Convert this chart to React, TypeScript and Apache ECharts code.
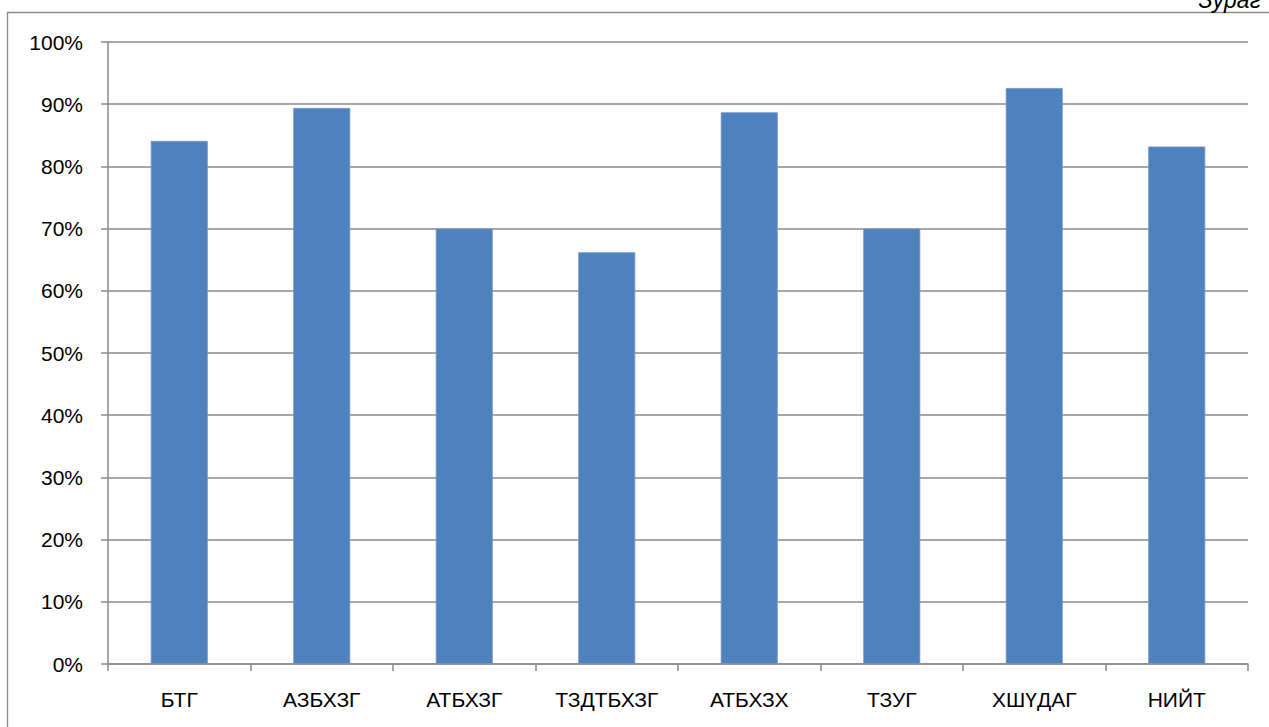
import React, { useEffect, useRef } from "react";
import * as echarts from "echarts";

const categories = ["БТГ", "АЗБХЗГ", "АТБХЗГ", "ТЗДТБХЗГ", "АТБХЗХ", "ТЗУГ", "ХШҮДАГ", "НИЙТ"];
const values = [0.841, 0.894, 0.70, 0.662, 0.887, 0.70, 0.926, 0.832];
const yTicks = { min: 0, max: 1, interval: 0.1 };
const cornerTitle = "Зураг";

export default function App() {
  const ref = useRef<HTMLDivElement>(null);
  useEffect(() => {
    if (!ref.current) return;
    const chart = echarts.init(ref.current, undefined, { renderer: "svg" });
    const font = "'Liberation Sans', Arial, sans-serif";
    const gray = "#8a8a8a";
    chart.setOption({
      animation: false,
      backgroundColor: "#ffffff",
      textStyle: { fontFamily: font },
      graphic: [
        {
          type: "rect",
          shape: { x: 7.5, y: 12.5, width: 1400, height: 900 },
          style: { fill: "none", stroke: gray, lineWidth: 1.3 },
          silent: true,
        },
        {
          type: "text",
          x: 1261,
          y: 11,
          style: {
            text: cornerTitle,
            fontSize: 23,
            fontStyle: "italic",
            fontFamily: font,
            fill: "#000",
            textAlign: "right",
            textVerticalAlign: "bottom",
          },
        },
      ],
      grid: { left: 108, right: 21, top: 42, bottom: 63 },
      xAxis: {
        type: "category",
        data: categories,
        boundaryGap: true,
        axisLine: { lineStyle: { color: gray, width: 1.5 } },
        axisTick: { show: true, length: 7, interval: 0, lineStyle: { color: gray, width: 1.5 } },
        axisLabel: { color: "#000", fontSize: 21, margin: 25, fontFamily: font, interval: 0 },
      },
      yAxis: {
        type: "value",
        min: yTicks.min,
        max: yTicks.max,
        interval: yTicks.interval,
        axisLine: { show: true, lineStyle: { color: gray, width: 1.5 } },
        axisTick: { show: true, length: 7, lineStyle: { color: gray, width: 1.5 } },
        splitLine: { show: true, lineStyle: { color: gray, width: 1.5 } },
        axisLabel: {
          color: "#000",
          fontSize: 21,
          margin: 25,
          fontFamily: font,
          formatter: (v: number) => Math.round(v * 100) + "%",
        },
      },
      series: [
        {
          type: "bar",
          data: values,
          barCategoryGap: "60%",
          itemStyle: { color: "#4F81BD", borderColor: "#7396CB", borderWidth: 0.8 },
        },
      ],
    });
    return () => chart.dispose();
  }, []);
  return (
    <div
      ref={ref}
      style={{ position: "absolute", left: 0, top: 0, width: 1269, height: 727, background: "#fff" }}
    />
  );
}
